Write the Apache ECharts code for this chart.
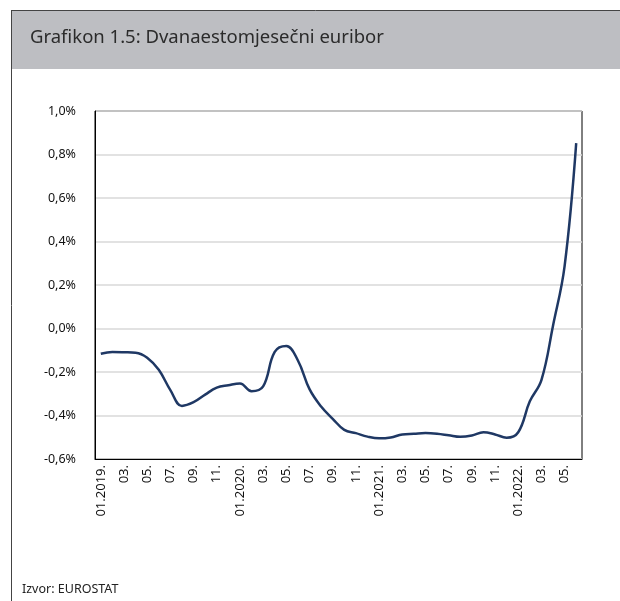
<!DOCTYPE html>
<html>
<head>
<meta charset="utf-8">
<script src="https://cdn.jsdelivr.net/npm/echarts@6/dist/echarts.min.js"></script>
<style>html,body{margin:0;padding:0;background:#fff;}#c{width:620px;height:601px;}</style>
</head>
<body>
<div id="c"></div>
<script>
var categories = [
  "01.2019.","02.","03.","04.","05.","06.","07.","08.","09.","10.","11.","12.",
  "01.2020.","02.","03.","04.","05.","06.","07.","08.","09.","10.","11.","12.",
  "01.2021.","02.","03.","04.","05.","06.","07.","08.","09.","10.","11.","12.",
  "01.2022.","02.","03.","04.","05.","06."
];
var euribor = [
  -0.116,-0.108,-0.109,-0.111,-0.134,-0.190,-0.283,-0.356,-0.339,-0.304,-0.272,-0.261,
  -0.253,-0.288,-0.266,-0.108,-0.081,-0.147,-0.279,-0.359,-0.415,-0.466,-0.481,-0.497,
  -0.505,-0.501,-0.487,-0.484,-0.481,-0.484,-0.491,-0.498,-0.492,-0.477,-0.487,-0.502,
  -0.477,-0.335,-0.237,0.013,0.287,0.852
];
var yTicks = [-0.6,-0.4,-0.2,0.0,0.2,0.4,0.6,0.8,1.0];
var titleText = "Grafikon 1.5: Dvanaestomjesečni euribor";
var sourceText = "Izvor: EUROSTAT";

var chart = echarts.init(document.getElementById('c'), null, {renderer:'canvas'});
var FONT = '"Noto Sans", "Open Sans", sans-serif';
chart.setOption({
  animation:false,
  backgroundColor:'#fff',
  graphic:[
    {type:'rect', shape:{x:11,y:10,width:609,height:59}, style:{fill:'#bdbec2'}, z:-1},
    {type:'line', shape:{x1:11,y1:10.5,x2:620,y2:10.5}, style:{stroke:'#444',lineWidth:1}},
    {type:'line', shape:{x1:11.5,y1:10,x2:11.5,y2:601}, style:{stroke:'#444',lineWidth:1}},
    {type:'text', left:30, top:28, style:{text:titleText, fill:'#2b2b2b', font:'18.5px '+FONT}},
    {type:'text', left:22, top:583, style:{text:sourceText, fill:'#222', font:'12.5px '+FONT}}
  ],
  grid:{left:95, right:38, top:111, bottom:142, show:true, borderColor:'#000', borderWidth:1},
  xAxis:{
    type:'category', data:categories, boundaryGap:true,
    axisLine:{onZero:false, lineStyle:{color:'#000',width:1}},
    axisTick:{show:false},
    axisLabel:{interval:1, rotate:90, color:'#111', fontSize:13, fontFamily:FONT, margin:6}
  },
  yAxis:{
    type:'value', min:-0.6, max:1.0, interval:0.2,
    axisLine:{show:true, lineStyle:{color:'#000',width:1}},
    axisTick:{show:false},
    splitLine:{lineStyle:{color:'#d9d9d9',width:1.5}},
    axisLabel:{color:'#111', fontSize:12.5, fontFamily:FONT, margin:19,
      formatter:function(v){ return v.toFixed(1).replace('.',',') + '%'; }}
  },
  series:[{
    type:'line', data:euribor, smooth:0.4, symbol:'none',
    lineStyle:{color:'#1f3864', width:2.5}
  }]
});
</script>
</body>
</html>
